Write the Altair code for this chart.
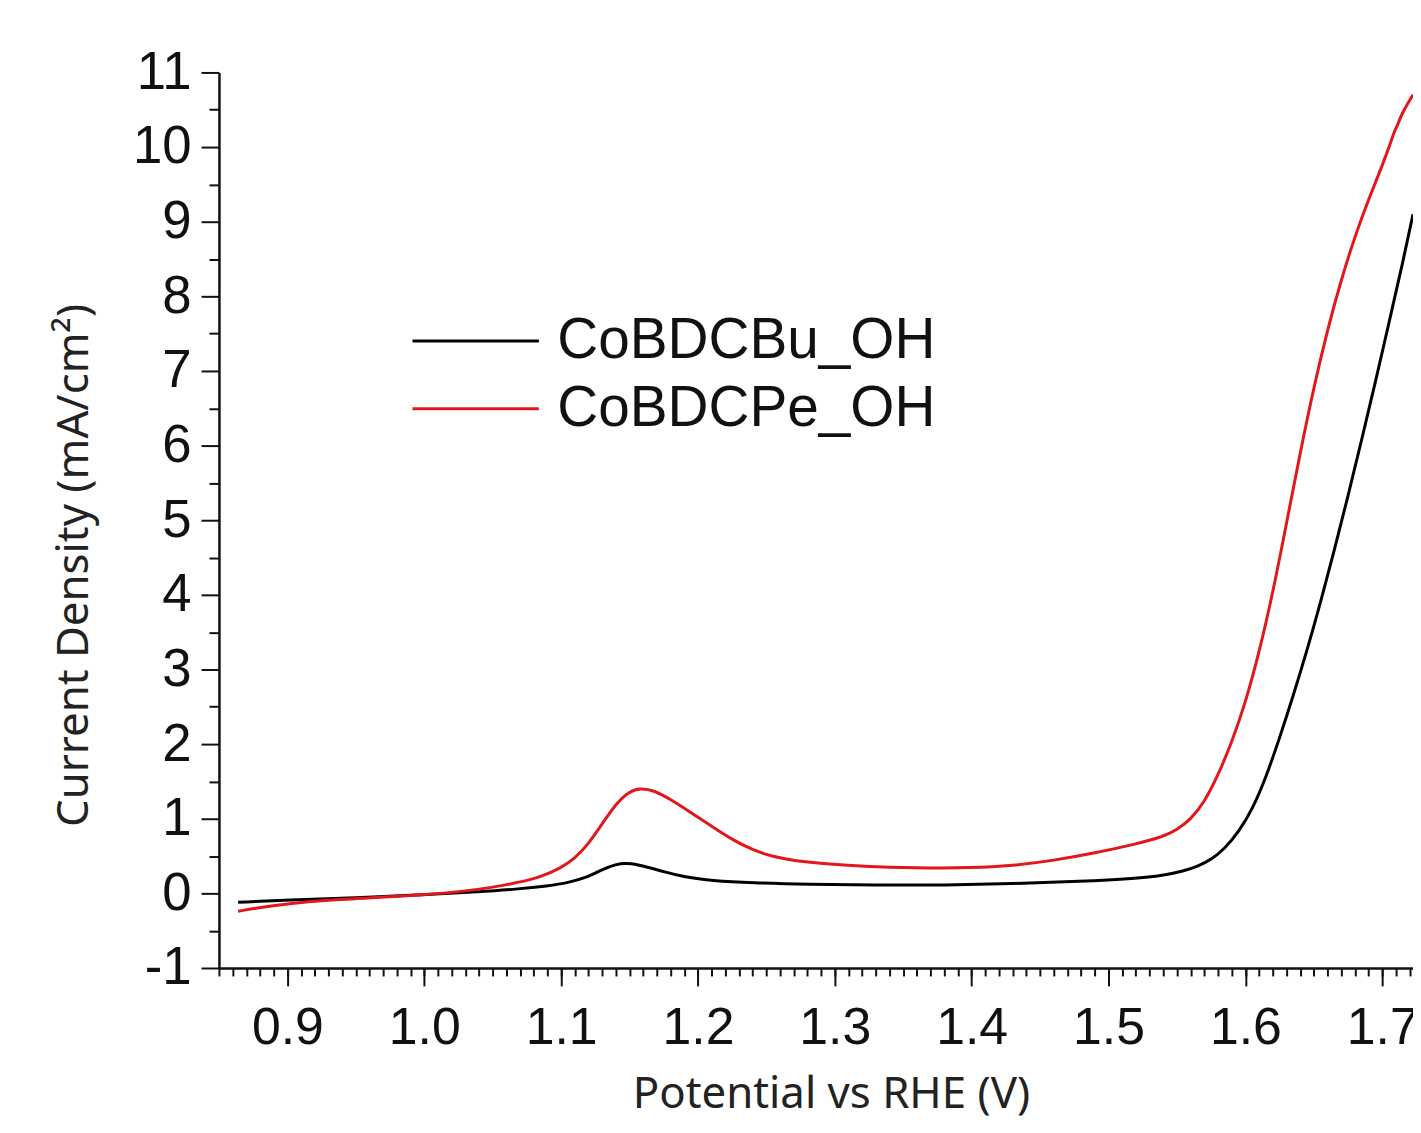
import altair as alt
import pandas as pd

series_names = ["CoBDCBu_OH", "CoBDCPe_OH"]
series_colors = ["#000000", "#e3161c"]

bu_x = [0.864, 0.90, 0.95, 1.00, 1.04, 1.07, 1.09, 1.105, 1.12, 1.13, 1.14, 1.148, 1.16, 1.175,
        1.19, 1.21, 1.24, 1.28, 1.33, 1.38, 1.43, 1.48, 1.52, 1.54, 1.555, 1.565, 1.575, 1.585,
        1.595, 1.605, 1.615, 1.625, 1.635, 1.645, 1.655, 1.665, 1.675, 1.685, 1.695, 1.705,
        1.715, 1.7225]
bu_y = [-0.12, -0.09, -0.06, -0.02, 0.02, 0.06, 0.10, 0.14, 0.22, 0.32, 0.39, 0.41, 0.37, 0.29,
        0.22, 0.17, 0.14, 0.12, 0.11, 0.11, 0.13, 0.16, 0.20, 0.24, 0.30, 0.36, 0.45, 0.60,
        0.82, 1.12, 1.55, 2.08, 2.65, 3.25, 3.90, 4.60, 5.32, 6.08, 6.85, 7.65,
        8.45, 9.10]

pe_x = [0.864, 0.88, 0.90, 0.93, 0.96, 1.00, 1.03, 1.05, 1.07, 1.085, 1.10, 1.11, 1.12, 1.13,
        1.14, 1.15, 1.158, 1.168, 1.18, 1.195, 1.21, 1.225, 1.24, 1.255, 1.27, 1.29, 1.32,
        1.36, 1.40, 1.43, 1.46, 1.49, 1.52, 1.54, 1.55, 1.56, 1.57, 1.58, 1.59, 1.60, 1.61,
        1.62, 1.63, 1.64, 1.65, 1.66, 1.67, 1.68, 1.69, 1.70, 1.706, 1.709, 1.711, 1.714, 1.7225]
pe_y = [-0.24, -0.19, -0.14, -0.09, -0.06, -0.02, 0.03, 0.08, 0.15, 0.22, 0.34, 0.47, 0.66, 0.93,
        1.20, 1.37, 1.41, 1.38, 1.26, 1.08, 0.90, 0.72, 0.58, 0.49, 0.44, 0.40, 0.36,
        0.34, 0.34, 0.37, 0.44, 0.54, 0.66, 0.76, 0.85, 0.99, 1.22, 1.58, 2.02, 2.55, 3.22,
        4.02, 4.95, 5.90, 6.78, 7.55, 8.22, 8.80, 9.30, 9.75, 10.05, 10.22, 10.28, 10.44, 10.70]

x_major = [0.9, 1.0, 1.1, 1.2, 1.3, 1.4, 1.5, 1.6, 1.7]
y_major = [-1, 0, 1, 2, 3, 4, 5, 6, 7, 8, 9, 10, 11]
x_minor = [round(0.85 + 0.01 * i, 2) for i in range(88)]
y_minor = [-0.5 + i for i in range(12)]

rows = []
for xs, ys, name in ((bu_x, bu_y, series_names[0]), (pe_x, pe_y, series_names[1])):
    for i, (a, b) in enumerate(zip(xs, ys)):
        rows.append({"x": a, "y": b, "series": name, "order": i})
df = pd.DataFrame(rows)

xscale = alt.Scale(domain=[0.85, 1.7225], nice=False, zero=False)
yscale = alt.Scale(domain=[-1, 11], nice=False, zero=False)

x_axis = alt.Axis(
    orient="bottom", values=x_major, format=".1f", tickSize=18, tickWidth=2,
    domainWidth=2.5, domainColor="#111", tickColor="#111",
    labelFont="Liberation Sans", labelFontSize=52, labelColor="#111", labelPadding=17,
    title="Potential vs RHE (V)", titleFont="Noto Sans", titleFontSize=44,
    titleFontWeight="normal", titleColor="#222", titleX=615, titleY=140,
    titleBaseline="alphabetic", titleAlign="center", grid=False, labelFlush=False,
)
y_axis = alt.Axis(
    orient="left", values=y_major, labelExpr="'' + datum.value", tickSize=18, tickWidth=2,
    domainWidth=2.5, domainColor="#111", tickColor="#111",
    labelFont="Liberation Sans", labelFontSize=53, labelColor="#111", labelPadding=10,
    title="Current Density (mA/cm²)", titleFont="Noto Sans", titleFontSize=44,
    titleFontWeight="normal", titleColor="#222", titleX=-132, titleY=495,
    titleBaseline="alphabetic", titleAlign="center", titleAngle=270, grid=False,
    labelFlush=False,
)
x_minor_axis = alt.Axis(
    orient="bottom", values=x_minor, labels=False, domain=False, tickSize=8, tickWidth=2,
    tickColor="#111", title=None, grid=False,
)
y_minor_axis = alt.Axis(
    orient="left", values=y_minor, labels=False, domain=False, tickSize=10, tickWidth=2,
    tickColor="#111", title=None, grid=False,
)

lines = alt.Chart(df).mark_line(strokeWidth=3, interpolate="basis").encode(
    x=alt.X("x:Q", scale=xscale, axis=x_axis),
    y=alt.Y("y:Q", scale=yscale, axis=y_axis),
    color=alt.Color(
        "series:N",
        scale=alt.Scale(domain=series_names, range=series_colors),
        legend=alt.Legend(
            orient="none", legendX=193, legendY=236, title=None,
            symbolType="stroke", symbolSize=16129, symbolStrokeWidth=3,
            labelFont="Liberation Sans", labelFontSize=57, labelColor="#111",
            labelOffset=17, labelLimit=0, clipHeight=68, rowPadding=0, padding=0,
        ),
    ),
    order="order:Q",
)

minor = alt.Chart(df).mark_line(opacity=0).encode(
    x=alt.X("x:Q", scale=xscale, axis=x_minor_axis),
    y=alt.Y("y:Q", scale=yscale, axis=y_minor_axis),
    detail="series:N",
)

chart = alt.layer(minor, lines).resolve_axis(x="independent", y="independent").properties(
    width=1200, height=900,
    autosize=alt.AutoSizeParams(type="none"),
    padding={"left": 212, "top": 62, "right": 0, "bottom": 150},
    background="white",
).configure_view(stroke=None)

chart.save("out.html", embed_options={"renderer": "svg", "actions": False})
